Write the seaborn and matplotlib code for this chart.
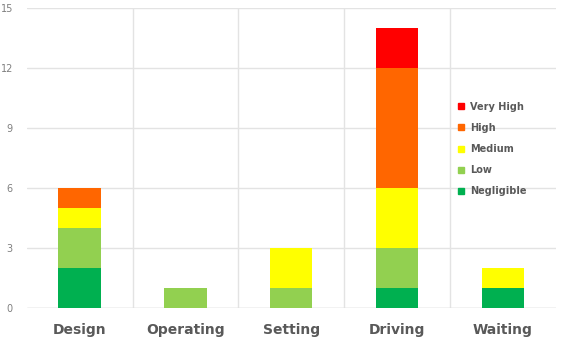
import matplotlib
matplotlib.use("Agg")
import matplotlib.pyplot as plt
import seaborn as sns
import numpy as np
from matplotlib.lines import Line2D

categories = ["Design", "Operating", "Setting", "Driving", "Waiting"]
levels = ["Negligible", "Low", "Medium", "High", "Very High"]
negligible = [2, 0, 0, 1, 1]
low = [2, 1, 1, 2, 0]
medium = [1, 0, 2, 3, 1]
high = [1, 0, 0, 6, 0]
very_high = [0, 0, 0, 2, 0]
series = [negligible, low, medium, high, very_high]
colors = ["#00B050", "#92D050", "#FFFF00", "#FF6600", "#FF0000"]
yticks = [0, 3, 6, 9, 12, 15]

sns.set_style("white")
fig = plt.figure(figsize=(5.69, 3.46), dpi=100)
ax = fig.add_axes([0.047, 0.110, 0.930, 0.867])

bottom = np.zeros(len(categories))
for name, vals, c in zip(levels, series, colors):
    sns.barplot(x=categories, y=vals, bottom=bottom, color=c, width=0.4,
                saturation=1, ax=ax, zorder=3, linewidth=0)
    bottom = bottom + np.array(vals)

ax.set_ylim(0, 15)
ax.set_xlim(-0.5, 4.5)
ax.set_yticks(yticks)
ax.set_xticks(range(len(categories)))
ax.set_xticks([0.5, 1.5, 2.5, 3.5], minor=True)
ax.grid(axis="y", color="#E3E3E3", linewidth=1, zorder=0)
ax.grid(axis="x", which="minor", color="#E3E3E3", linewidth=1, zorder=0)
ax.tick_params(axis="both", which="both", length=0)
ax.tick_params(axis="y", labelsize=7, labelcolor="#7F7F7F", pad=10)
ax.tick_params(axis="x", labelsize=10, labelcolor="#595959", pad=11)
for lab in ax.get_xticklabels():
    lab.set_fontweight("bold")
for s in ax.spines.values():
    s.set_visible(False)
ax.axhline(0, color="#D9D9D9", linewidth=1, zorder=2)
ax.set_xlabel("")
ax.set_ylabel("")

handles = [Line2D([], [], marker="s", linestyle="", color=c, markersize=5)
           for c in colors[::-1]]
leg = ax.legend(handles, levels[::-1], loc="center left",
                bbox_to_anchor=(0.785, 0.53), frameon=False,
                handletextpad=0.0, labelspacing=1.15,
                prop={"size": 7, "weight": "bold"})
for t in leg.get_texts():
    t.set_color("#595959")

fig.savefig("out.png", dpi=100)
